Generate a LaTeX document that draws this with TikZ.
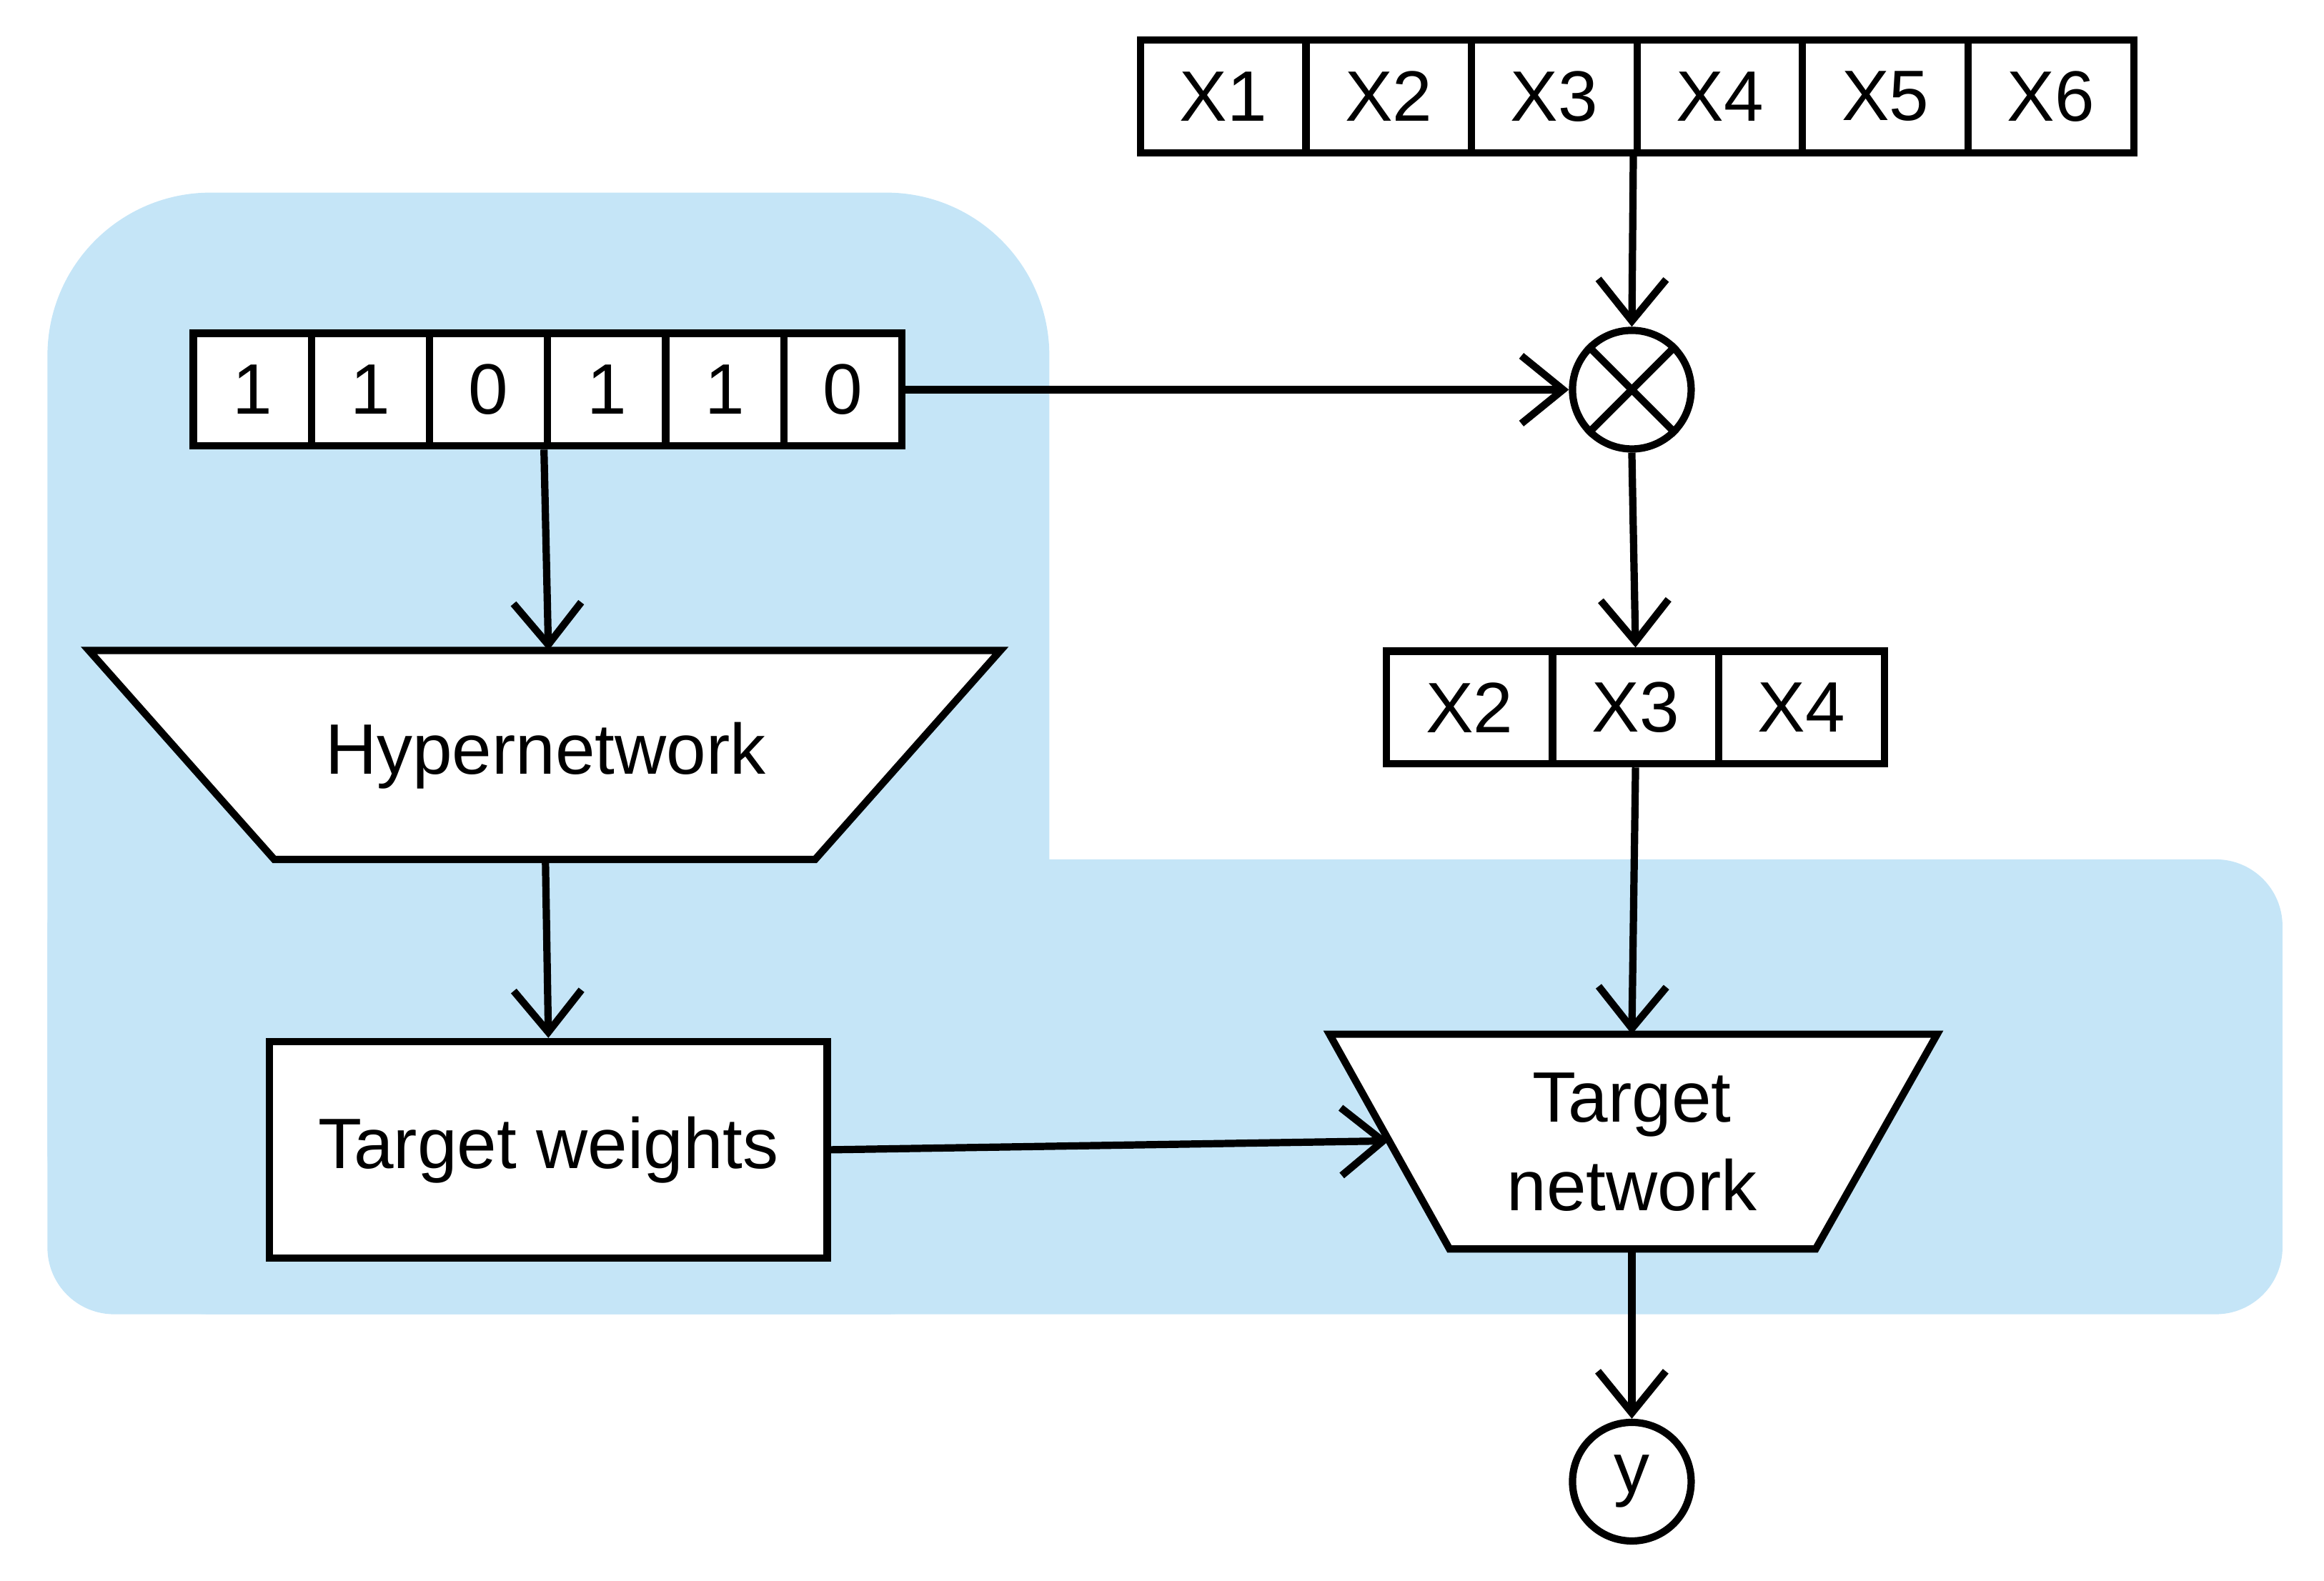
\documentclass[tikz,border=0pt]{standalone}
\usepackage{fontspec}
\setmainfont{Liberation Sans}
\usetikzlibrary{arrows.meta}
\definecolor{bluebg}{HTML}{C5E5F7}
\begin{document}
\begin{tikzpicture}[x=0.01cm,y=-0.01cm,
  line width=1.4pt,
  txt/.style={font=\fontsize{13.7}{17}\selectfont},
  cell/.style={draw,fill=white,line width=1.4pt,minimum width=#1,minimum height=0.76cm,anchor=west,inner sep=0pt,font=\fontsize{13.7}{17}\selectfont},
  arr/.style={-{Straight Barb[length=8pt,width=13pt,line width=1.4pt]}}]
\useasboundingbox (0,0) rectangle (1568,1067);
% background
\fill[bluebg,rounded corners=1.1cm] (32,130) rectangle (708,887);
\fill[bluebg,rounded corners=0.45cm] (32,580) rectangle (1540,887);
% top X row
\foreach \t [count=\i] in {X1,X2,X3,X4,X5,X6}
  \node[cell=1.117cm] (x\i) at ({767+(\i-1)*111.67},65) {\t};
% binary row
\foreach \t [count=\i] in {1,1,0,1,1,0}
  \node[cell=0.797cm] (b\i) at ({128+(\i-1)*79.67},263) {\t};
% otimes
\node[draw,fill=white,circle,minimum size=0.8cm,inner sep=0pt] (m) at (1101,263) {};
\draw (m.45) -- (m.225) (m.135) -- (m.315);
% selected
\foreach \t [count=\i] in {X2,X3,X4}
  \node[cell=1.12cm] (s\i) at ({933+(\i-1)*112},477.5) {\t};
% hypernetwork
\coordinate (h1) at (60,439); \coordinate (h2) at (675,439);
\coordinate (h3) at (550,580); \coordinate (h4) at (185,580);
\draw[fill=white,line join=miter] (h1) -- (h2) -- (h3) -- (h4) -- cycle;
\node[txt] (hn) at (368,510) {Hypernetwork};
\coordinate (htop) at (370,439); \coordinate (hbot) at (368,580);
% target weights
\node[draw,fill=white,minimum width=3.76cm,minimum height=1.46cm,txt] (tw) at (370,776) {Target weights};
% target network
\coordinate (t1) at (897,698); \coordinate (t2) at (1307,698);
\coordinate (t3) at (1225,843); \coordinate (t4) at (978,843);
\draw[fill=white,line join=miter] (t1) -- (t2) -- (t3) -- (t4) -- cycle;
\node[txt,align=center] (tn) at (1101,771) {Target\\network};
\coordinate (ttop) at (1101,698); \coordinate (tbot) at (1101,843);
\coordinate (tl) at (937,770);
% y
\node[draw,fill=white,circle,minimum size=0.8cm,inner sep=0pt,txt] (y) at (1101,1000) {y};
% arrows
\draw[arr] (x4.south west) -- (m.north);
\draw[arr] (b6.east) -- (m.west);
\draw[arr] (m.south) -- (s2.north);
\draw[arr] (s2.south) -- (ttop);
\draw[arr] (b4.south west) -- (htop);
\draw[arr] (hbot) -- (tw.north);
\draw[arr] (tw.east) -- (tl);
\draw[arr] (tbot) -- (y.north);
\end{tikzpicture}
\end{document}
